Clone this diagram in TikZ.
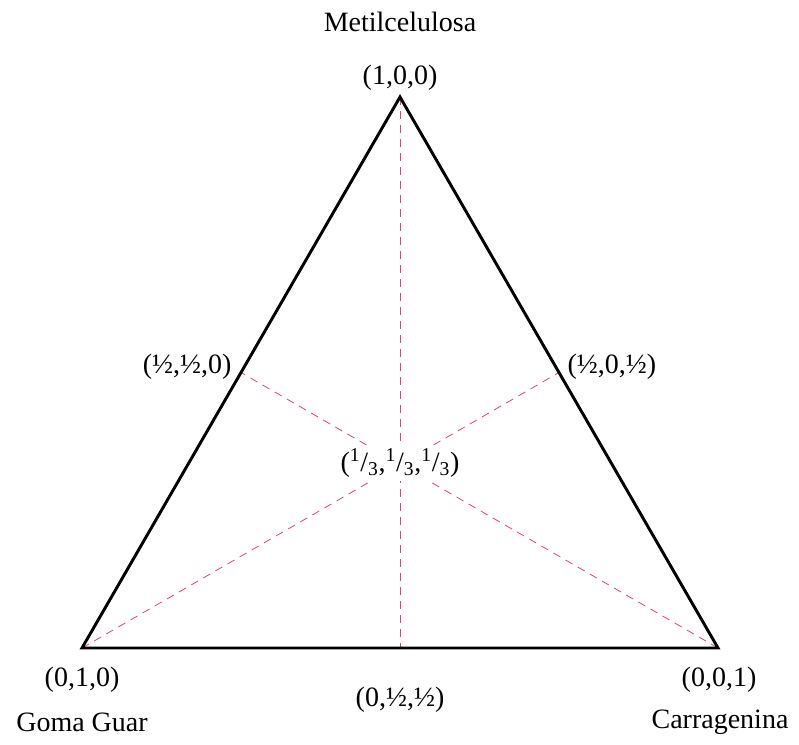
\documentclass[tikz,border=0pt]{standalone}
\usepackage{fontspec}
\setmainfont{Liberation Serif}
\usetikzlibrary{positioning,calc}
\definecolor{mediancol}{RGB}{222,70,110}
\tikzset{
  edge/.style={draw=black,line width=2.2pt,line join=miter},
  median/.style={draw=mediancol,line width=0.6pt,dash pattern=on 6pt off 4.5pt},
  lab/.style={font=\fontsize{21}{24}\selectfont,inner sep=1pt},
  comp/.style={font=\fontsize{21}{24}\selectfont,inner sep=1pt},
  cen/.style={lab,fill=white,inner sep=3pt},
}
\newcommand{\thrd}{\textsuperscript{1}/\textsubscript{3}}

\begin{document}
\begin{tikzpicture}[x=0.75pt,y=-0.75pt]
  \useasboundingbox (0,0) rectangle (799,744);
  % vertices and midpoints
  \coordinate (met) at (400,97);
  \coordinate (gom) at (82,648);
  \coordinate (car) at (718,648);
  \coordinate (mgm) at ($(met)!0.5!(gom)$);
  \coordinate (mmc) at ($(met)!0.5!(car)$);
  \coordinate (mgc) at ($(gom)!0.5!(car)$);
  % medians
  \draw[median] (met) -- (mgc);
  \draw[median] (gom) -- (mmc);
  \draw[median] (car) -- (mgm);
  \draw[edge] (met) -- (gom) -- (car) -- cycle;
  \node[cen] (ctr) at (400,463) {(\thrd,\thrd,\thrd)};
  % labels
  \node[lab] (pmet) at (400,78) {(1,0,0)};
  \node[comp] (nmet) at (400,22) {Metilcelulosa};
  \node[lab] (pgom) at (82,680) {(0,1,0)};
  \node[comp] (ngom) at (82,722) {Goma Guar};
  \node[lab] (pcar) at (719,680) {(0,0,1)};
  \node[comp] (ncar) at (720,722) {Carragenina};
  \node[lab,anchor=east] (pgm) at (233,367) {(½,½,0)};
  \node[lab,anchor=west] (pmc) at (566,367) {(½,0,½)};
  \node[lab] (pgc) at (400,700) {(0,½,½)};
\end{tikzpicture}
\end{document}
